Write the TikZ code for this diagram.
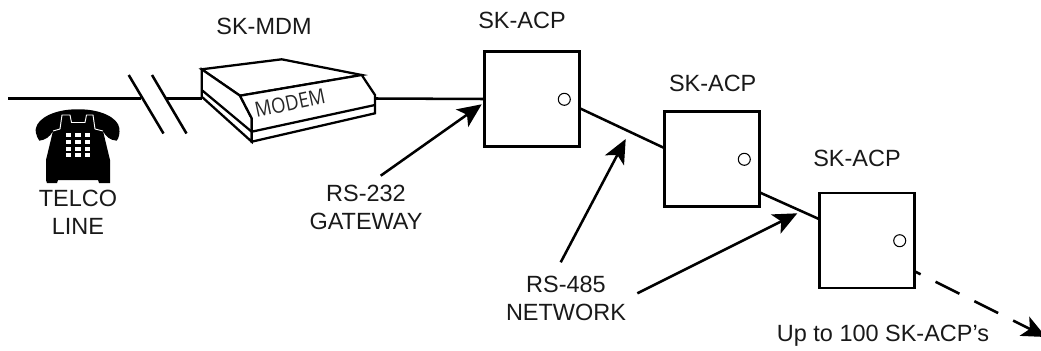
\documentclass[tikz,border=0pt]{standalone}
\usepackage{fontspec}
\setmainfont{Liberation Sans}
\newfontfamily\modemfont{Open Sans}
\usetikzlibrary{arrows.meta}
\tikzset{
  wire/.style={line width=1.9pt,black},
  acpbox/.style={draw,line width=1.9pt,fill=white,minimum width=71.25pt,minimum height=71.25pt,outer sep=0pt,inner sep=0pt},
  led/.style={draw,line width=0.8pt,fill=white,circle,minimum size=9pt,inner sep=0pt,outer sep=0pt},
  callout/.style={line width=1.9pt,-{Stealth[length=18pt,width=16pt,inset=4.5pt]}},
  lbl/.style={inner sep=0pt,font=\fontsize{17.6}{20}\selectfont,align=center,text=black!90},
  modemline/.style={line width=1.7pt,line join=miter,fill=white},
  keykey/.style={fill=white,draw=none,minimum width=3.9pt,minimum height=3pt,inner sep=0pt}
}
\begin{document}
\begin{tikzpicture}[x=0.75pt,y=-0.75pt]
\useasboundingbox (0,0) rectangle (1041,350);
% free ends
\coordinate (lineStart) at (8,98.5);
\coordinate (breakA) at (141,98.5);
\coordinate (breakB) at (165,98.5);
\coordinate (modemL) at (202,98.5);
\coordinate (modemR) at (375,98.5);
\coordinate (s1a) at (128.7,75); \coordinate (s1b) at (163.5,133.5);
\coordinate (s2a) at (152,75); \coordinate (s2b) at (186.5,133.5);
% boxes
\node[acpbox] (b1) at (532.2,99) {};
\node[acpbox] (b2) at (711.8,159) {};
\node[acpbox] (b3) at (867.2,240.5) {};
\node[led] (c1) at (564.3,99.3) {};
\node[led] (c2) at (744.3,159.3) {};
\node[led] (c3) at (899.7,240.7) {};
% wires
\draw[wire] (lineStart) -- (breakA);
\draw[wire] (breakB) -- (modemL);
\draw[wire] (modemR) -- (b1.west);
\draw[wire] (s1a) -- (s1b);
\draw[wire] (s2a) -- (s2b);
\draw[wire] (b1.-11.9) -- (b2.167);
\draw[wire] (b2.-35.4) -- (b3.156.7);
\coordinate (farEnd) at (1046,337);
\draw[wire,dash pattern=on 20pt off 12.5pt,dash phase=15pt,-{Stealth[length=18pt,width=16pt,inset=4.5pt]}] (b3.-33.5) -- (farEnd);
% modem
\draw[modemline] (201.7,69.3) -- (281.7,59.3) -- (361.7,75) -- (240,95.7) -- cycle;
\draw[modemline] (201.7,69.3) -- (240,95.7) -- (251.7,118.3) -- (251.7,141.7) -- (201.7,96.7) -- cycle;
\draw[modemline] (240,95.7) -- (361.7,75) -- (375,95) -- (375,113.3) -- (251.7,141.7) -- (251.7,118.3) -- cycle;
\draw[modemline,fill=none] (201.7,90) -- (251.7,131.7) -- (375,105);
\node[inner sep=0pt,rotate=12,xscale=.88,font=\modemfont\fontsize{15.75}{17}\selectfont,text=black!85] (modemtxt) at (290,103) {MODEM};
% telephone
\fill[black] (39.3,140.7) .. controls (36,136) and (35,130) .. (36,128)
  .. controls (38,118) and (55,109) .. (78,109.3)
  .. controls (101,109) and (118,118) .. (119.3,128)
  .. controls (120,133) and (119,138) .. (116.7,140.7)
  .. controls (110,140) and (106,137) .. (103,131)
  -- (110,160) -- (110,180) -- (110,183) -- (99,183) -- (98,180) -- (58,180) -- (57,183) -- (47,183) -- (46,180) -- (46,160) -- (53,131)
  .. controls (50,137) and (45,140) .. (39.3,140.7) -- cycle;
\draw[white,line width=0.7pt] (53,131) -- (60,129) -- (62,115) -- (70,115) -- (71.5,122.5) -- (85,122.5) -- (86.5,115) -- (93,115) -- (95,129) -- (103,131);
\foreach \yy in {135.3,142,148.7,155.3}{\foreach \xx in {68.3,78,87.3}{\node[keykey] at (\xx,\yy) {};}}
% callouts
\coordinate (g1) at (380.7,175.7); \coordinate (gt) at (481.7,104.3);
\coordinate (n1) at (560.7,262.3); \coordinate (nt1) at (625.7,139);
\coordinate (n2) at (637.3,293.3); \coordinate (nt2) at (797.3,213.3);
\draw[callout] (g1) -- (gt);
\draw[callout] (n1) -- (nt1);
\draw[callout] (n2) -- (nt2);
% labels
\node[lbl] (l1) at (264,26) {SK-MDM};
\node[lbl] (l2) at (522,20) {SK-ACP};
\node[lbl] (l3) at (712.7,83.3) {SK-ACP};
\node[lbl] (l4) at (857,158) {SK-ACP};
\node[lbl] (l5) at (78,212) {TELCO\\[1pt]LINE};
\node[lbl] (l6) at (366,207) {RS-232\\[1pt]GATEWAY};
\node[lbl] (l7) at (566,298) {RS-485\\[1pt]NETWORK};
\node[lbl] (l8) at (883,336) {Up to 100 SK-ACP’s};
\end{tikzpicture}
\end{document}
